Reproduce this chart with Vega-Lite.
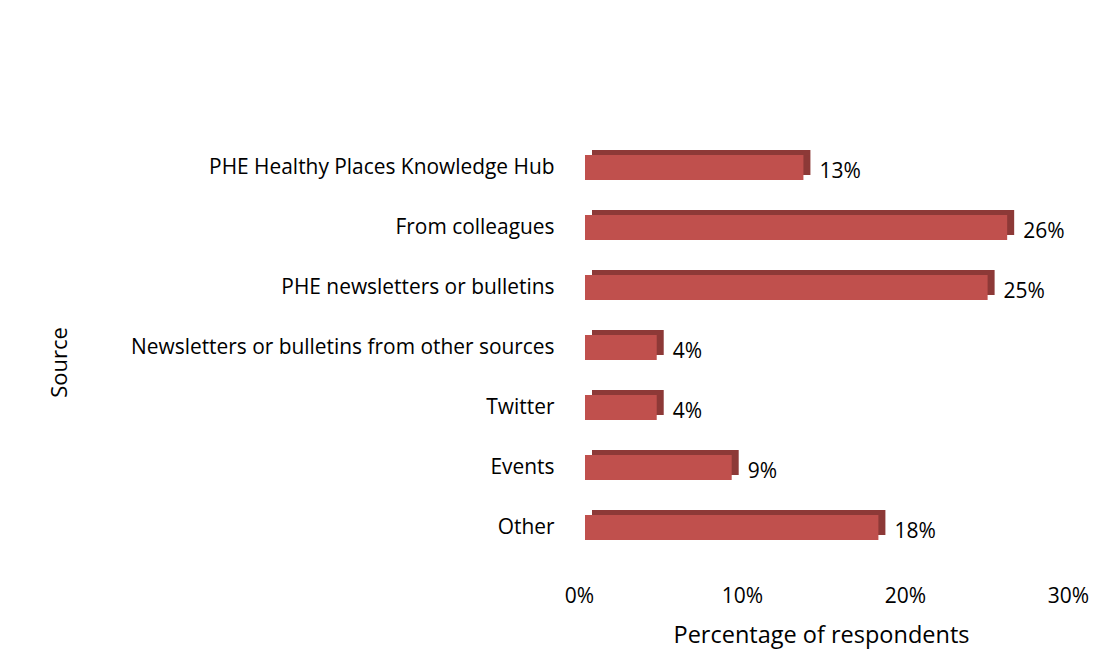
{
  "$schema": "https://vega.github.io/schema/vega-lite/v6.json",
  "width": 489,
  "height": 420,
  "autosize": {"type": "none"},
  "padding": {"left": 585, "top": 137.5, "right": 46, "bottom": 113.5},
  "background": "white",
  "config": {
    "view": {"stroke": null},
    "font": "Open Sans",
    "text": {"font": "Open Sans"}
  },
  "data": {
    "values": [
      {"source": "PHE Healthy Places Knowledge Hub", "pct": 0.134},
      {"source": "From colleagues", "pct": 0.259},
      {"source": "PHE newsletters or bulletins", "pct": 0.247},
      {"source": "Newsletters or bulletins from other sources", "pct": 0.044},
      {"source": "Twitter", "pct": 0.044},
      {"source": "Events", "pct": 0.09},
      {"source": "Other", "pct": 0.18}
    ]
  },
  "encoding": {
    "y": {
      "field": "source",
      "type": "nominal",
      "sort": null,
      "title": "Source",
      "axis": {
        "domain": false,
        "ticks": false,
        "labelPadding": 31,
        "labelFontSize": 20.9,
        "labelColor": "#000000",
        "labelFont": "Open Sans",
        "labelLimit": 500,
        "titleFont": "Open Sans",
        "titleFontSize": 22,
        "titleFontWeight": "normal",
        "titleColor": "#000000",
        "titleX": -526,
        "titleY": 224.5,
        "titleAngle": -90,
        "titleBaseline": "middle",
        "titleAlign": "center"
      }
    }
  },
  "layer": [
    {
      "mark": {"type": "bar", "color": "#8D3937", "size": 25, "xOffset": 7, "yOffset": -5},
      "encoding": {
        "x": {
          "field": "pct",
          "type": "quantitative",
          "scale": {"domain": [0, 0.3], "nice": false},
          "title": "Percentage of respondents",
          "axis": {
            "format": ".0%",
            "values": [0, 0.1, 0.2, 0.3],
            "domain": false,
            "ticks": false,
            "grid": false,
            "labelFlush": false,
            "labelBaseline": "alphabetic",
            "labelPadding": 44.5,
            "labelFontSize": 21,
            "labelColor": "#000000",
            "labelFont": "Open Sans",
            "labelOffset": -6,
            "titleFont": "Open Sans",
            "titleFontSize": 23.5,
            "titleFontWeight": "normal",
            "titleColor": "#000000",
            "titleBaseline": "alphabetic",
            "titleAlign": "center",
            "titleX": 236,
            "titleY": 84.5
          }
        }
      }
    },
    {
      "mark": {"type": "bar", "color": "#C0504D", "size": 25},
      "encoding": {
        "x": {"field": "pct", "type": "quantitative"}
      }
    },
    {
      "mark": {"type": "text", "align": "left", "baseline": "middle", "dx": 16, "dy": 4, "fontSize": 21, "color": "#000000", "font": "Open Sans"},
      "encoding": {
        "x": {"field": "pct", "type": "quantitative"},
        "text": {"field": "pct", "type": "quantitative", "format": ".0%"}
      }
    }
  ]
}
